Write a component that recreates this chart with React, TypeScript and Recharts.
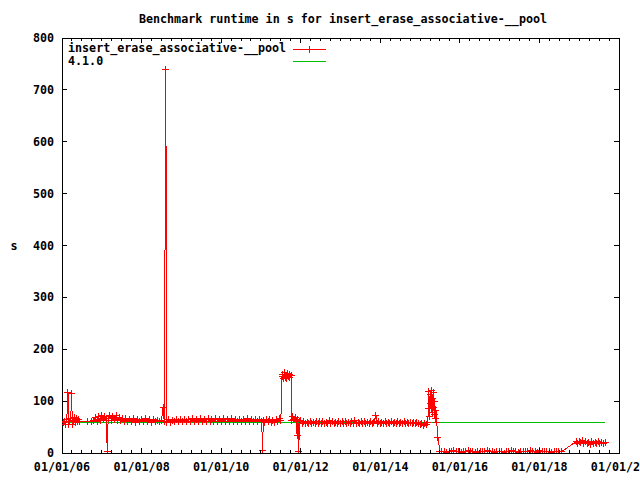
import React from 'react';
import { LineChart, Line, XAxis, YAxis, ReferenceArea } from 'recharts';

const runs2006: [number, number][] = [
  [2006.03, 58], [2006.06, 61], [2006.09, 55], [2006.12, 64], [2006.15, 117],
  [2006.17, 54], [2006.19, 60], [2006.22, 66], [2006.24, 114], [2006.26, 55],
  [2006.28, 63], [2006.31, 68], [2006.33, 59], [2006.36, 66], [2006.38, 61],
  [2006.41, 65], [2006.44, 60], [2006.65, 60], [2006.75, 61],
];

const runs2007to2010: [number, number][] = [
  [2006.8, 62], [2006.84, 68], [2006.88, 61], [2006.92, 70], [2006.96, 63],
  [2007.0, 72], [2007.04, 64], [2007.08, 71], [2007.11, 62], [2007.14, 3],
  [2007.16, 66], [2007.2, 73], [2007.24, 63], [2007.28, 70], [2007.32, 64],
  [2007.36, 72], [2007.4, 62], [2007.44, 69], [2007.48, 63], [2007.52, 67],
  [2007.56, 61], [2007.6, 66], [2007.65, 60], [2007.7, 65], [2007.75, 61],
  [2007.8, 66], [2007.85, 59], [2007.9, 64], [2007.95, 60], [2008.0, 65],
  [2008.05, 61], [2008.1, 66], [2008.15, 60], [2008.2, 64], [2008.25, 59],
  [2008.3, 65], [2008.35, 61], [2008.4, 63], [2008.45, 60], [2008.5, 62],
  [2008.54, 88], [2008.57, 61], [2008.61, 740], [2008.63, 59], [2008.67, 64],
  [2008.72, 59], [2008.77, 63], [2008.82, 60], [2008.87, 65], [2008.92, 60],
  [2008.97, 64], [2009.02, 61], [2009.07, 65], [2009.12, 60], [2009.17, 64],
  [2009.22, 60], [2009.27, 66], [2009.32, 61], [2009.37, 65], [2009.42, 60],
  [2009.47, 66], [2009.52, 61], [2009.57, 65], [2009.62, 60], [2009.67, 66],
  [2009.72, 61], [2009.77, 64], [2009.82, 60], [2009.87, 66], [2009.92, 61],
  [2009.97, 65], [2010.02, 60], [2010.07, 66], [2010.12, 60], [2010.17, 64],
  [2010.22, 61], [2010.27, 66], [2010.32, 60], [2010.37, 65], [2010.42, 60],
  [2010.47, 65], [2010.52, 61], [2010.57, 64], [2010.62, 60], [2010.67, 66],
  [2010.72, 60], [2010.77, 64], [2010.82, 60], [2010.87, 65], [2010.92, 61],
  [2010.97, 64], [2011.02, 61], [2011.04, 4], [2011.06, 62],
];

const runs2011: [number, number][] = [
  [2011.1, 59], [2011.14, 64], [2011.18, 60], [2011.22, 65], [2011.26, 59],
  [2011.3, 63], [2011.34, 59], [2011.38, 64], [2011.42, 60], [2011.46, 66],
  [2011.5, 62], [2011.53, 147], [2011.55, 152], [2011.57, 144], [2011.59, 155],
  [2011.61, 146], [2011.63, 150], [2011.65, 143], [2011.67, 153], [2011.69, 147],
  [2011.71, 151], [2011.73, 145], [2011.76, 149], [2011.77, 62], [2011.8, 70],
  [2011.83, 64], [2011.86, 68], [2011.89, 61], [2011.91, 33], [2011.93, 65],
  [2011.95, 3], [2011.97, 60], [2012.0, 63],
];

const runs2012to2015: [number, number][] = [
  [2012.04, 57], [2012.08, 60], [2012.12, 56], [2012.16, 59], [2012.2, 57],
  [2012.24, 61], [2012.28, 57], [2012.32, 59], [2012.36, 56], [2012.4, 60],
  [2012.44, 57], [2012.48, 61], [2012.52, 57], [2012.56, 60], [2012.6, 56],
  [2012.64, 59], [2012.68, 57], [2012.72, 62], [2012.76, 57], [2012.8, 60],
  [2012.84, 56], [2012.88, 59], [2012.92, 56], [2012.96, 60], [2013.0, 57],
  [2013.04, 61], [2013.08, 57], [2013.12, 60], [2013.16, 56], [2013.2, 59],
  [2013.24, 56], [2013.28, 60], [2013.32, 57], [2013.36, 62], [2013.4, 57],
  [2013.44, 59], [2013.48, 56], [2013.52, 61], [2013.56, 57], [2013.6, 60],
  [2013.64, 56], [2013.68, 59], [2013.72, 56], [2013.76, 60], [2013.8, 57],
  [2013.84, 59], [2013.89, 73], [2013.92, 57], [2013.96, 60], [2014.0, 57],
  [2014.04, 59], [2014.08, 56], [2014.12, 60], [2014.16, 57], [2014.2, 59],
  [2014.24, 56], [2014.28, 60], [2014.32, 57], [2014.36, 59], [2014.4, 56],
  [2014.44, 60], [2014.48, 57], [2014.52, 59], [2014.56, 56], [2014.6, 60],
  [2014.64, 57], [2014.68, 59], [2014.72, 56], [2014.76, 59], [2014.8, 57],
  [2014.84, 59], [2014.88, 56], [2014.92, 59], [2014.96, 57], [2015.0, 55],
  [2015.04, 57], [2015.08, 53], [2015.12, 56], [2015.16, 54], [2015.19, 58],
  [2015.21, 85], [2015.22, 118], [2015.24, 70], [2015.25, 112], [2015.27, 95],
  [2015.28, 121], [2015.3, 78], [2015.31, 105], [2015.33, 88], [2015.34, 116],
  [2015.36, 74], [2015.37, 100], [2015.39, 66], [2015.4, 82], [2015.42, 58],
  [2015.45, 30], [2015.5, 3],
];

const runs2016to2018: [number, number][] = [
  [2015.55, 2], [2015.61, 3], [2015.67, 1], [2015.73, 3], [2015.79, 2],
  [2015.85, 4], [2015.91, 2], [2015.97, 3], [2016.03, 1], [2016.09, 3],
  [2016.15, 2], [2016.21, 4], [2016.27, 2], [2016.33, 3], [2016.39, 1],
  [2016.45, 3], [2016.51, 2], [2016.57, 3], [2016.63, 2], [2016.69, 4],
  [2016.75, 2], [2016.81, 3], [2016.87, 1], [2016.93, 3], [2016.99, 2],
  [2017.05, 3], [2017.11, 0], [2017.17, 3], [2017.23, 2], [2017.29, 4],
  [2017.35, 2], [2017.41, 3], [2017.47, 1], [2017.53, 3], [2017.59, 2],
  [2017.65, 3], [2017.71, 2], [2017.77, 4], [2017.83, 2], [2017.89, 3],
  [2017.95, 1], [2018.01, 5], [2018.07, 2], [2018.13, 3], [2018.19, 2],
  [2018.25, 3], [2018.31, 1], [2018.37, 3], [2018.43, 2], [2018.49, 3],
  [2018.55, 2],
];

const runs2019: [number, number][] = [
  [2018.92, 22], [2018.96, 19], [2019.0, 23], [2019.04, 20], [2019.08, 24],
  [2019.12, 19], [2019.16, 22], [2019.2, 18], [2019.24, 21], [2019.28, 17],
  [2019.32, 22], [2019.36, 18], [2019.4, 21], [2019.44, 19], [2019.48, 22],
  [2019.52, 18], [2019.56, 20], [2019.6, 19], [2019.66, 21],
];

// reference release 4.1.0
const baseline: [number, number][] = [[2006.03, 59], [2019.65, 59]];

const seriesName = 'insert_erase_associative-__pool';
const baselineName = '4.1.0';
const title = 'Benchmark runtime in s for insert_erase_associative-__pool';

const xMajorYears = [2006, 2008, 2010, 2012, 2014, 2016, 2018, 2020];
const xTickLabels = ['01/01/06', '01/01/08', '01/01/10', '01/01/12', '01/01/14', '01/01/16', '01/01/18', '01/01/20'];
const yTicks = [0, 100, 200, 300, 400, 500, 600, 700, 800];

// minor ticks every quarter year
const xTicks: number[] = [];
for (let i = 0; i <= 56; i++) xTicks.push(2006 + i * 0.25);

const runData = [...runs2006, ...runs2007to2010, ...runs2011, ...runs2012to2015, ...runs2016to2018, ...runs2019]
  .map(([t, v]) => ({ t, v }));
const baseData = baseline.map(([t, v]) => ({ t, v }));

const PLOT = { left: 62, right: 619, top: 38, bottom: 453 };
const FONT = '"DejaVu Sans Mono", "Liberation Mono", monospace';
const RED = '#ff0000';
const GREEN = '#00c000';

const XTick = (props: any) => {
  const { x, payload } = props;
  const idx = xMajorYears.indexOf(payload.value);
  const len = idx >= 0 ? 5 : 3;
  return (
    <g>
      <line x1={x} x2={x} y1={PLOT.bottom} y2={PLOT.bottom - len} stroke="#000" />
      <line x1={x} x2={x} y1={PLOT.top} y2={PLOT.top + len} stroke="#000" />
      {idx >= 0 && (
        <text x={x} y={PLOT.bottom + 18} textAnchor="middle" fontFamily={FONT} fontWeight="bold" fontSize={11.7} fill="#000">
          {xTickLabels[idx]}
        </text>
      )}
    </g>
  );
};

const YTick = (props: any) => {
  const { y, payload } = props;
  return (
    <g>
      <line x1={PLOT.left} x2={PLOT.left + 5} y1={y} y2={y} stroke="#000" />
      <line x1={PLOT.right} x2={PLOT.right - 5} y1={y} y2={y} stroke="#000" />
      <text x={PLOT.left - 8} y={y + 4} textAnchor="end" fontFamily={FONT} fontWeight="bold" fontSize={11.7} fill="#000">
        {payload.value}
      </text>
    </g>
  );
};

const crossDot = (p: any) => {
  const { cx, cy, index } = p;
  if (cx == null || cy == null) return <g key={`c${index}`} />;
  return (
    <path
      key={`c${index}`}
      d={`M${cx - 3.5},${cy}H${cx + 3.5}M${cx},${cy - 3.5}V${cy + 3.5}`}
      stroke={RED}
      strokeWidth={1}
      fill="none"
    />
  );
};

export default function App() {
  return (
    <div style={{ position: 'absolute', left: 0, top: 0, width: 640, height: 480, background: '#fff', shapeRendering: 'crispEdges' } as any}>
      <LineChart width={640} height={480} margin={{ top: 38, right: 21, bottom: 0, left: 0 }}>
        <XAxis
          type="number"
          dataKey="t"
          domain={[2006, 2020]}
          ticks={xTicks}
          interval={0}
          height={27}
          tickSize={0}
          tickMargin={0}
          axisLine={false}
          tickLine={false}
          tick={XTick}
          allowDataOverflow
        />
        <YAxis
          type="number"
          domain={[0, 800]}
          ticks={yTicks}
          interval={0}
          width={62}
          tickSize={0}
          tickMargin={0}
          axisLine={false}
          tickLine={false}
          tick={YTick}
          allowDataOverflow
        />
        <ReferenceArea x1={2006} x2={2020} y1={0} y2={800} fill="none" stroke="#000" strokeWidth={1} />
        <Line data={runData} dataKey="v" type="linear" stroke={RED} strokeWidth={1} dot={crossDot} isAnimationActive={false} />
        <Line data={baseData} dataKey="v" type="linear" stroke={GREEN} strokeWidth={1} dot={false} isAnimationActive={false} />
      </LineChart>
      <svg width={640} height={480} style={{ position: 'absolute', left: 0, top: 0, pointerEvents: 'none' }}>
        <g fontFamily={FONT} fontWeight="bold" fontSize={11.7} fill="#000">
          <text x={343} y={23} textAnchor="middle">{title}</text>
          <text x={14} y={250} textAnchor="middle">s</text>
          <text x={68} y={52}>{seriesName}</text>
          <text x={68} y={65}>{baselineName}</text>
        </g>
        <line x1={293} x2={326} y1={49} y2={49} stroke={RED} />
        <path d="M306,49H313M309.5,45.5V52.5" stroke={RED} fill="none" />
        <line x1={293} x2={326} y1={61.5} y2={61.5} stroke={GREEN} />
      </svg>
    </div>
  );
}
